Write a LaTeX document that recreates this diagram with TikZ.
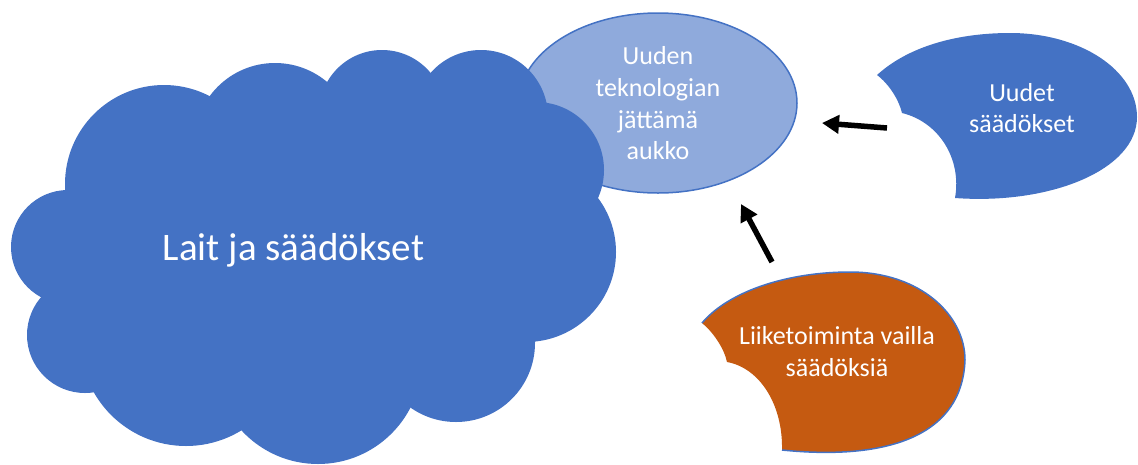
\documentclass[tikz,border=0pt]{standalone}
\usepackage{fontspec}
\setmainfont{Carlito}
\usetikzlibrary{arrows.meta}

\definecolor{lawblue}{HTML}{4472C4}
\definecolor{gapblue}{HTML}{8FAADC}
\definecolor{bizorange}{HTML}{C55A11}

\def\bigsize{\fontsize{39}{47}\selectfont}
\def\labelsize{\fontsize{26}{31.7}\selectfont}

\begin{document}
\begin{tikzpicture}[x=1pt,y=-1pt,
    shapetext/.style={text=white,align=center,font=\labelsize,inner sep=0pt},
    pointer/.style={line width=5.5pt,-{Triangle[length=17pt,width=18pt]}}]

    \useasboundingbox (0,0) rectangle (1138,464);

    \draw[fill=gapblue,draw=lawblue,line width=1.5pt] (658,103) ellipse [x radius=139,y radius=90];

    \fill[lawblue] (65,190) -- (208,98) -- (327,82) -- (431,73) -- (547,103) -- (598,198)
      -- (535,342) -- (410,407) -- (241,430) -- (94,392) -- (41,297) -- cycle;
    \foreach \cx/\cy/\r in {164/184/99, 275/144/81, 382/113/63, 481/117/67, 536/170/68,
      526/252/90, 456/343/79, 318/360/104, 186/340/106, 85/335/58, 68/247/57}
      \fill[lawblue] (\cx,\cy) circle [radius=\r];

    \fill[lawblue] (877,75) .. controls (910,45) and (960,33) .. (1010,33)
      .. controls (1080,33) and (1137,70) .. (1137,117)
      .. controls (1137,170) and (1050,205) .. (955,198)
      .. controls (962,159) and (939,122) .. (902,113)
      .. controls (899,100) and (889,84) .. (877,75) -- cycle;

    \fill[bizorange] (702,323) .. controls (730,290) and (790,272) .. (850,272)
      .. controls (920,272) and (965,315) .. (965,360)
      .. controls (962,440) and (880,460) .. (782,450)
      .. controls (783,405) and (760,368) .. (727,362)
      .. controls (724,348) and (713,332) .. (702,323) -- cycle;
    \draw[lawblue,line width=1.5pt] (702,323) .. controls (730,290) and (790,272) .. (850,272)
      .. controls (920,272) and (965,315) .. (965,360)
      .. controls (962,440) and (880,460) .. (782,450);

    \node[shapetext,font=\bigsize,anchor=base] (lait) at (293.5,260) {Lait ja säädökset};
    \node[shapetext] (aukko) at (658,103.4) {Uuden\\teknologian\\jättämä\\aukko};
    \node[shapetext] (uudet) at (1022,108) {Uudet\\säädökset};
    \node[shapetext] (liiketoiminta) at (837,351.7) {Liiketoiminta vailla\\säädöksiä};

    \coordinate (uudet-tail) at (887,128);
    \coordinate (uudet-tip) at (822,123);
    \coordinate (liike-tail) at (772,262);
    \coordinate (liike-tip) at (741,204);

    \draw[pointer] (uudet-tail) -- (uudet-tip);
    \draw[pointer] (liike-tail) -- (liike-tip);

\end{tikzpicture}
\end{document}
